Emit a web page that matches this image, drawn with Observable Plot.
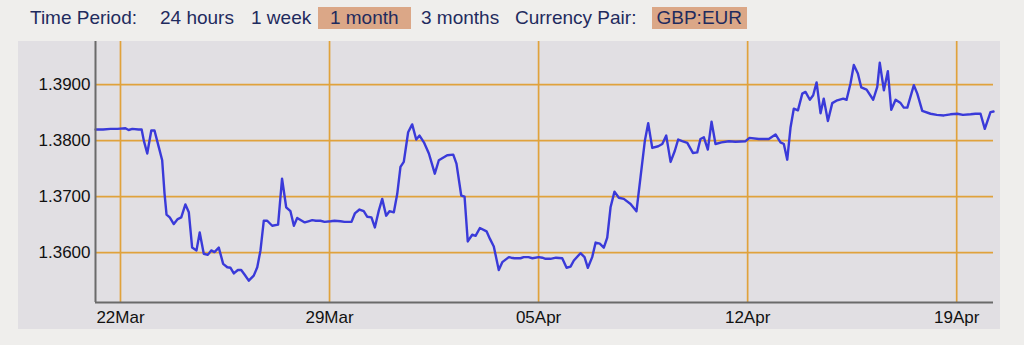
<!DOCTYPE html>
<html><head><meta charset="utf-8">
<script src="https://cdn.jsdelivr.net/npm/d3@7"></script>
<script src="https://cdn.jsdelivr.net/npm/@observablehq/plot@0.6"></script>
<style>
html,body{margin:0;padding:0;background:#efeeec;width:1024px;height:345px;overflow:hidden;font-family:"Liberation Sans",Arial,sans-serif;}
#header{position:absolute;left:0;top:0;width:1024px;height:41px;}
.item{position:absolute;top:7px;height:22px;line-height:22px;font-size:19px;color:#1f2b5e;white-space:nowrap;text-align:center;}
.sel{background:#dba787;}
#panel{position:absolute;left:18px;top:41px;width:982px;height:288px;background:#e1dfe3;}
</style></head><body>
<div id="header"></div>
<div id="panel"></div>
<script>
// ---- header content ----
const headerItems = ["Time Period:", "24 hours", "1 week", "1 month", "3 months", "Currency Pair:", "GBP:EUR"];
const selectedItems = ["1 month", "GBP:EUR"];

// ---- chart data ----
const times = [
"03-21T04:00","03-21T10:00","03-21T16:00","03-21T21:30","03-22T04:00","03-22T06:30","03-22T09:30","03-22T14:30","03-22T17:00","03-22T18:45",
"03-22T21:30","03-23T00:45","03-23T03:20","03-23T06:50","03-23T09:30","03-23T11:25","03-23T13:00","03-23T15:35","03-23T18:50","03-23T22:00",
"03-24T00:50","03-24T04:10","03-24T06:55","03-24T09:35","03-24T13:05","03-24T15:40","03-24T18:55","03-24T22:10","03-25T00:55","03-25T03:30",
"03-25T07:00","03-25T10:30","03-25T13:50","03-25T16:25","03-25T19:05","03-25T22:20","03-26T01:00","03-26T03:40","03-26T07:05","03-26T11:05",
"03-26T13:55","03-26T16:30","03-26T19:10","03-26T21:55","03-27T01:55","03-27T06:40","03-27T09:50","03-27T13:10","03-27T16:35","03-27T19:20",
"03-27T22:00","03-28T04:05","03-28T07:00","03-28T10:05","03-28T13:00","03-28T16:40","03-28T20:00","03-29T00:50","03-29T04:00","03-29T08:50",
"03-29T12:00","03-29T17:40","03-29T20:20","03-30T00:05","03-30T03:30","03-30T06:20","03-30T09:40","03-30T12:25","03-30T15:35","03-30T18:20",
"03-30T21:30","03-31T00:10","03-31T03:40","03-31T06:25","03-31T09:00","03-31T11:40","03-31T15:10","03-31T18:25","03-31T21:40","04-01T00:20",
"04-01T03:50","04-01T07:50","04-01T12:35","04-01T15:50","04-01T22:35","04-02T03:25","04-02T06:00","04-02T09:50","04-02T12:30","04-02T15:05",
"04-02T18:40","04-02T21:20","04-03T00:50","04-03T06:10","04-03T08:50","04-03T12:00","04-03T16:00","04-03T18:50","04-04T00:05","04-04T02:00",
"04-04T04:35","04-04T09:30","04-04T12:00","04-04T15:55","04-04T19:00","04-05T00:10","04-05T03:00","04-05T05:35","04-05T09:35","04-05T14:00",
"04-05T19:00","04-05T22:30","04-06T01:40","04-06T04:20","04-06T09:40","04-06T12:55","04-06T15:35","04-06T19:05","04-06T21:50","04-07T01:10",
"04-07T04:25","04-07T07:10","04-07T09:50","04-07T13:00","04-07T16:30","04-07T20:30","04-08T01:55","04-08T06:40","04-08T09:55","04-08T13:25",
"04-08T16:05","04-08T19:20","04-09T00:10","04-09T03:25","04-09T06:35","04-09T10:05","04-09T13:30","04-09T16:10","04-09T19:25","04-09T23:30",
"04-10T04:00","04-10T07:30","04-10T10:05","04-10T12:50","04-10T16:00","04-10T19:00","04-10T22:10","04-11T03:00","04-11T08:55","04-11T14:10",
"04-11T22:20","04-12T01:30","04-12T09:00","04-12T17:00","04-12T22:25","04-13T02:25","04-13T05:05","04-13T07:50","04-13T10:30","04-13T13:05",
"04-13T16:25","04-13T19:55","04-13T22:30","04-14T02:00","04-14T04:40","04-14T07:25","04-14T10:35","04-14T13:10","04-14T16:30","04-14T20:00",
"04-15T00:00","04-15T04:50","04-15T07:30","04-15T10:40","04-15T13:20","04-15T16:35","04-15T19:20","04-15T23:35","04-16T04:55","04-16T08:10",
"04-16T10:10","04-16T13:30","04-16T16:40","04-16T19:25","04-16T22:55","04-17T02:55","04-17T05:30","04-17T08:20","04-17T13:35","04-17T16:20",
"04-17T20:20","04-18T03:00","04-18T08:00","04-18T13:40","04-18T19:00","04-19T00:30","04-19T05:00","04-19T11:10","04-19T15:00","04-19T19:10",
"04-19T22:35","04-20T03:10","04-20T05:35"
];
const rates = [
1.3820,1.3820,1.3821,1.3821,1.3822,1.3819,1.3821,1.3820,1.3820,1.3800,
1.3777,1.3818,1.3818,1.3788,1.3765,1.3705,1.3668,1.3663,1.3651,1.3660,
1.3663,1.3686,1.3672,1.3609,1.3604,1.3636,1.3598,1.3596,1.3604,1.3601,
1.3609,1.3580,1.3574,1.3573,1.3563,1.3569,1.3569,1.3561,1.3550,1.3559,
1.3574,1.3604,1.3657,1.3657,1.3648,1.3650,1.3732,1.3681,1.3674,1.3648,
1.3662,1.3654,1.3656,1.3658,1.3657,1.3657,1.3655,1.3656,1.3657,1.3656,
1.3655,1.3655,1.3670,1.3677,1.3674,1.3664,1.3663,1.3645,1.3675,1.3696,
1.3666,1.3674,1.3672,1.3705,1.3753,1.3762,1.3815,1.3829,1.3802,1.3809,
1.3797,1.3777,1.3741,1.3765,1.3774,1.3775,1.3759,1.3702,1.3700,1.3620,
1.3632,1.3630,1.3644,1.3638,1.3625,1.3611,1.3569,1.3583,1.3592,1.3591,
1.3590,1.3590,1.3592,1.3592,1.3590,1.3592,1.3591,1.3589,1.3589,1.3591,
1.3590,1.3573,1.3575,1.3586,1.3599,1.3592,1.3573,1.3592,1.3618,1.3616,
1.3609,1.3627,1.3681,1.3709,1.3698,1.3696,1.3687,1.3674,1.3735,1.3800,
1.3831,1.3787,1.3790,1.3794,1.3809,1.3762,1.3782,1.3802,1.3799,1.3796,
1.3778,1.3779,1.3803,1.3806,1.3784,1.3834,1.3794,1.3797,1.3799,1.3798,
1.3799,1.3805,1.3803,1.3803,1.3811,1.3797,1.3794,1.3766,1.3824,1.3857,
1.3854,1.3884,1.3887,1.3873,1.3881,1.3904,1.3849,1.3875,1.3835,1.3867,
1.3872,1.3875,1.3873,1.3902,1.3935,1.3920,1.3895,1.3891,1.3873,1.3896,
1.3939,1.3890,1.3924,1.3855,1.3873,1.3867,1.3859,1.3859,1.3899,1.3884,
1.3853,1.3848,1.3846,1.3845,1.3847,1.3848,1.3846,1.3847,1.3848,1.3848,
1.3821,1.3851,1.3852
];
const xTickLabels = ["2015-03-22","2015-03-29","2015-04-05","2015-04-12","2015-04-19"];
const yTickValues = [1.36, 1.37, 1.38, 1.39];
const xDomain = ["2015-03-21T03:55Z", "2015-04-20T05:35Z"];
const yDomain = [1.3511, 1.3977];

// ---- header ----
const header = document.getElementById("header");
const headerLeft = [30, 160, 251, 317.5, 421, 515, 652];
const headerW = [null, null, null, 93.5, null, null, 94.5];
headerItems.forEach((t, i) => {
  const d = document.createElement("div");
  d.className = "item" + (selectedItems.includes(t) ? " sel" : "");
  d.textContent = t;
  d.style.left = headerLeft[i] + "px";
  if (headerW[i]) d.style.width = headerW[i] + "px";
  header.appendChild(d);
});

// ---- chart ----
const data = times.map((t, i) => ({date: new Date("2015-" + t + "Z"), rate: rates[i]}));
const xTicks = xTickLabels.map(d => new Date(d + "T00:00Z"));
const xd = xDomain.map(d => new Date(d));
const grid = "#e0a23c";
const chart = Plot.plot({
  width: 982, height: 288,
  marginLeft: 77, marginRight: 7, marginTop: 0, marginBottom: 27,
  style: {background: "transparent", fontFamily: "'Liberation Sans', Arial, sans-serif", fontSize: "17px", color: "#111", overflow: "visible"},
  x: {type: "utc", domain: xd},
  y: {domain: yDomain},
  marks: [
    Plot.ruleY(yTickValues, {stroke: grid, strokeWidth: 1.7}),
    Plot.ruleX(xTicks, {stroke: grid, strokeWidth: 1.7}),
    Plot.lineY(data, {x: "date", y: "rate", stroke: "#3a3ad9", strokeWidth: 2.4, curve: "linear"}),
    Plot.ruleX([xd[0]], {stroke: "#6a6a6a", strokeWidth: 2}),
    Plot.ruleY([yDomain[0]], {stroke: "#6a6a6a", strokeWidth: 2}),
    Plot.axisX(xTicks, {tickSize: 0, tickPadding: 8, tickFormat: d3.utcFormat("%d%b"), label: null, fill: "#111"}),
    Plot.axisY(yTickValues, {tickSize: 0, tickPadding: 5, tickFormat: d3.format(".4f"), label: null, fill: "#111"})
  ]
});
document.getElementById("panel").appendChild(chart);
</script>
</body></html>
